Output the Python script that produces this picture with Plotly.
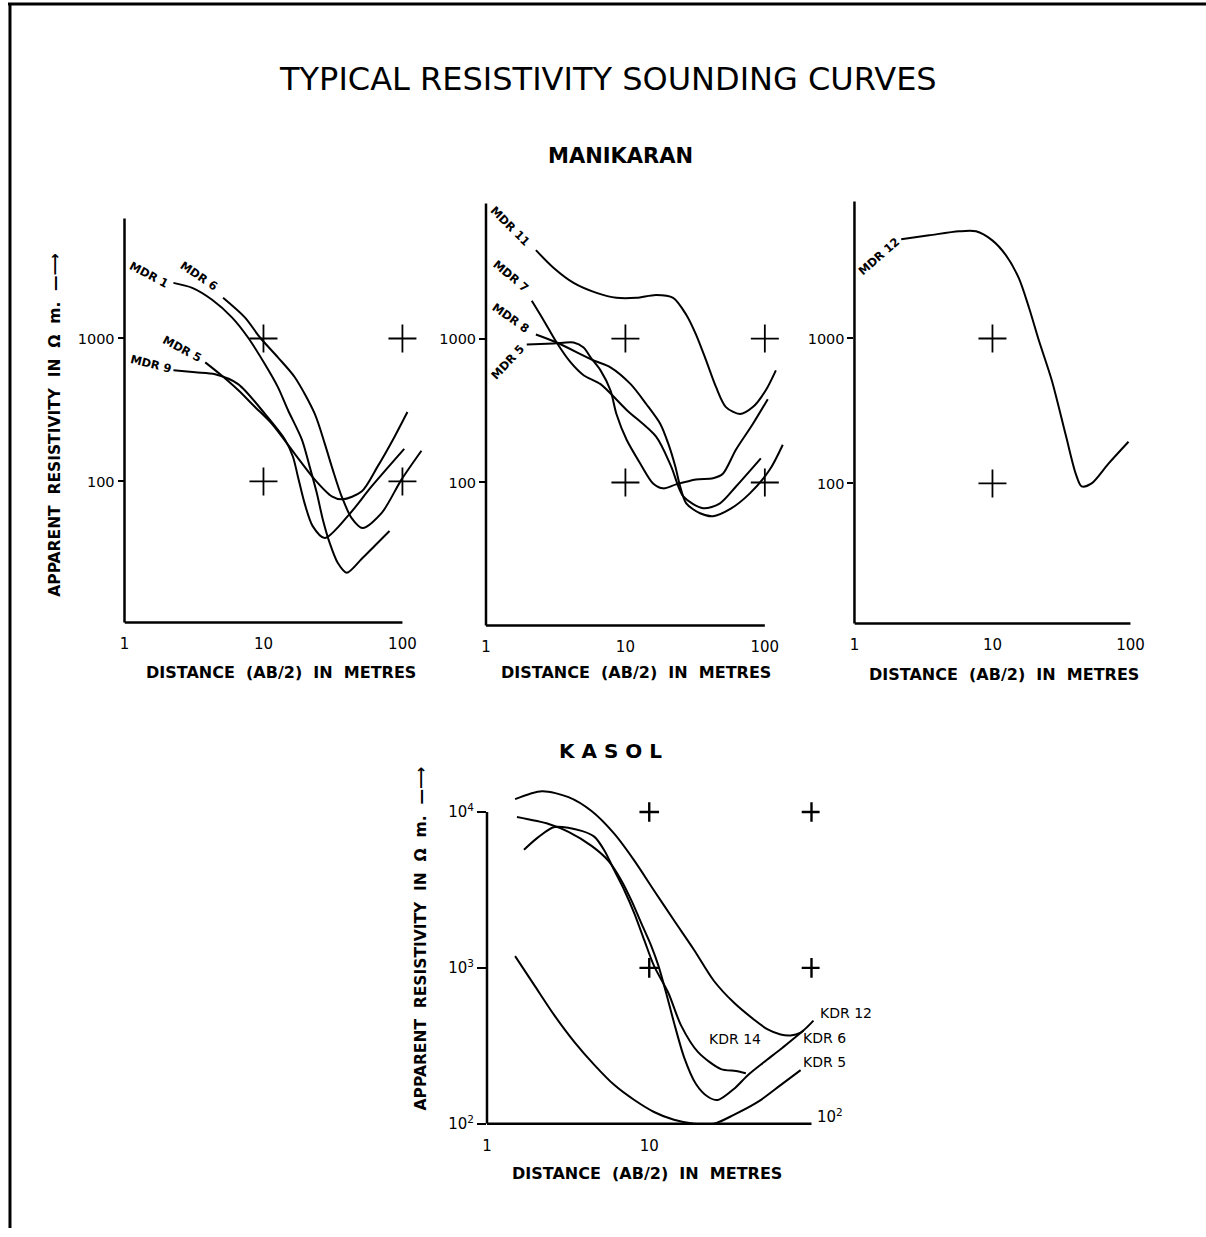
import plotly.graph_objects as go

# ------------------------------------------------------------------
# DATA  (x = AB/2 in metres, y = ohm-m)
# ------------------------------------------------------------------
# Manikaran - panel 1
mdr1_x = [2.25, 3.07, 4.27, 5.95, 7.74, 10.25, 12.7, 15.0, 18.9, 21.5, 24.2, 26.7, 30, 34.2, 39.7, 50.8, 63, 80.7]
mdr1_y = [2450, 2260, 1865, 1400, 1016, 660, 457, 316, 196, 127, 83, 54.5, 37, 27, 23, 28.7, 35.4, 45]
mdr6_x = [5.12, 7.37, 9.44, 12.7, 16.8, 23.4, 27.6, 31.5, 36.5, 43.1, 51.7, 70.7, 98.4, 137]
mdr6_y = [1928, 1400, 1016, 738, 536, 297, 184, 121, 78.7, 55.4, 47.2, 60, 103, 164]
mdr5_x = [3.81, 4.88, 6.57, 8.69, 11.5, 16.8, 23.4, 31, 37.1, 50.8, 66.2, 87.6, 108.6]
mdr5_y = [681, 562, 436, 332, 253, 156, 103, 78.7, 75, 85, 127, 205, 306]
mdr9_x = [2.25, 3.23, 4.49, 6.57, 10.25, 14.3, 16.3, 17.7, 19.8, 22.6, 27.6, 40.4, 60, 103]
mdr9_y = [600, 580, 562, 480, 297, 196, 149, 108, 70, 48.7, 40.2, 57.2, 92.3, 169]

# Manikaran - panel 2
mdr11_x = [2.28, 3.06, 4.25, 6.21, 8.62, 12.0, 16.6, 22.0, 27.3, 32.1, 37.9, 44.7, 52.6, 66.3, 82, 101.6, 120]
mdr11_y = [4110, 3090, 2434, 2075, 1918, 1918, 2010, 1918, 1465, 1066, 705, 459, 334, 299, 334, 437, 601]
mdr7_x = [2.13, 2.6, 3.21, 4.05, 5.01, 6.63, 10.2, 16.6, 21.3, 26, 36.1, 47.7, 62.1, 93.6]
mdr7_y = [1829, 1331, 938, 682, 556, 482, 319, 208, 129, 80, 66.2, 71.7, 93.7, 147]
mdr8_x = [2.28, 3.21, 5.91, 7.81, 10.9, 14.1, 17.8, 20.3, 22.8, 24.7, 27.3, 34.3, 42.5, 56.2, 78.1, 108.6, 134.5]
mdr8_y = [1066, 938, 705, 631, 482, 351, 255, 186, 129, 93.7, 71.7, 61.1, 58.3, 65.2, 84, 123, 183]
mdr5b_x = [1.96, 3.06, 4.25, 5.01, 5.62, 6.63, 7.81, 8.62, 10.2, 12.8, 15.8, 18.7, 23.1, 32.1, 42.5, 50, 62, 82, 105]
mdr5b_y = [909, 924, 938, 866, 740, 601, 437, 299, 198, 135, 98.4, 91, 97, 105, 107, 115, 169, 255, 379]

# Manikaran - panel 3
mdr12_x = [2.18, 3.48, 5.73, 7.6, 9.92, 12.5, 15.5, 18.4, 21.7, 26.9, 34, 40.1, 44.3, 52.3, 69.3, 96.8]
mdr12_y = [4840, 5150, 5490, 5490, 4770, 3760, 2617, 1630, 968, 515, 215, 117, 95.3, 100, 137, 194]

# Kasol
kdr12_x = [1.49, 2.18, 3.18, 4.41, 6.1, 8.09, 10.7, 14.2, 18.9, 25, 33.2, 44.1, 53.7, 64.5, 74.3, 85.7, 102.8]
kdr12_y = [12100, 13600, 12460, 10150, 7240, 4880, 3140, 2020, 1303, 827, 599, 467, 403, 374, 369, 385, 459]
kdr6_x = [1.53, 2.4, 3.18, 4.41, 5.6, 6.73, 7.76, 8.93, 10.3, 11.4, 12.7, 14.2, 16.4, 19.4, 23, 26.5, 33.2, 40.5, 50.8, 64.5, 89.3]
kdr6_y = [9290, 8390, 7470, 6070, 4870, 3640, 2710, 1937, 1382, 1030, 693, 447, 267, 180, 149, 142, 167, 205, 248, 301, 397]
kdr14_x = [1.69, 2.08, 2.61, 3.83, 4.6, 5.3, 6.1, 7.03, 8.09, 9.32, 10.7, 13.1, 15.7, 20, 27.7, 34.2, 39.4]
kdr14_y = [5730, 6930, 8020, 7570, 6930, 5650, 4210, 3140, 2240, 1507, 1030, 693, 428, 288, 224, 218, 211]
kdr5_x = [1.49, 1.97, 2.61, 3.47, 4.6, 6.1, 8.09, 10.7, 14.2, 18.9, 25, 33.2, 46.7, 64.5, 85.7]
kdr5_y = [1191, 767, 494, 333, 238, 177, 142, 119, 106, 100, 100, 114, 138, 177, 221]

# reference crosses
man_cross_x = [10, 100, 10, 100]
man_cross_y = [1000, 1000, 100, 100]
mdr12_cross_x = [10, 10]
mdr12_cross_y = [1000, 100]
kas_cross_x = [10, 100, 10, 100]
kas_cross_y = [10000, 10000, 1000, 1000]

# tick labels
man_xticks = [1, 10, 100]
man_xtext = ["1", "10", "100"]
man_yticks = [100, 1000]
man_ytext = ["100", "1000"]
kas_xticks = [1, 10]
kas_xtext = ["1", "10"]
kas_yticks = [100, 1000, 10000]
kas_ytext = ["10<sup>2</sup>", "10<sup>3</sup>", "10<sup>4</sup>"]

# ------------------------------------------------------------------
W, H = 1206, 1237
FONT = "DejaVu Sans"


def px(v):
    return v / W


def py(v):
    return 1 - v / H


fig = go.Figure()

curve_style = dict(mode="lines", line=dict(color="black", width=2, shape="spline", smoothing=0.8),
                   hoverinfo="skip", showlegend=False)

panels = {
    1: [(mdr1_x, mdr1_y), (mdr6_x, mdr6_y), (mdr5_x, mdr5_y), (mdr9_x, mdr9_y)],
    2: [(mdr11_x, mdr11_y), (mdr7_x, mdr7_y), (mdr8_x, mdr8_y), (mdr5b_x, mdr5b_y)],
    3: [(mdr12_x, mdr12_y)],
    4: [(kdr12_x, kdr12_y), (kdr6_x, kdr6_y), (kdr14_x, kdr14_y), (kdr5_x, kdr5_y)],
}
for k, curves in panels.items():
    ax = "" if k == 1 else str(k)
    for cx, cy in curves:
        fig.add_trace(go.Scatter(x=cx, y=cy, xaxis="x" + ax, yaxis="y" + ax, **curve_style))

crosses = {1: (man_cross_x, man_cross_y, 20), 2: (man_cross_x, man_cross_y, 20),
           3: (mdr12_cross_x, mdr12_cross_y, 20), 4: (kas_cross_x, kas_cross_y, 14)}
for k, (cx, cy, sz) in crosses.items():
    ax = "" if k == 1 else str(k)
    fig.add_trace(go.Scatter(x=cx, y=cy, xaxis="x" + ax, yaxis="y" + ax, mode="markers",
                             marker=dict(symbol="cross-thin", size=sz,
                                         line=dict(color="black", width=2.4 if k == 4 else 1.8)),
                             hoverinfo="skip", showlegend=False))

common_x = dict(type="log", showgrid=False, zeroline=False, showline=False,
                ticks="outside", ticklen=8, tickcolor="rgba(0,0,0,0)",
                tickfont=dict(family=FONT, size=15, color="black"))
common_y = dict(type="log", showgrid=False, zeroline=False, showline=False,
                ticks="outside", ticklen=6, tickwidth=2, tickcolor="black",
                tickfont=dict(family=FONT, size=14.5, color="black"))

layout = dict(
    width=W, height=H, margin=dict(l=0, r=0, t=0, b=0),
    paper_bgcolor="white", plot_bgcolor="white", showlegend=False,
    xaxis=dict(common_x, domain=[px(120), px(427)], range=[0, 2.2], anchor="y",
               tickvals=man_xticks, ticktext=man_xtext),
    yaxis=dict(common_y, domain=[py(627), py(220)], range=[1.014, 3.84], anchor="x",
               tickvals=man_yticks, ticktext=man_ytext),
    xaxis2=dict(common_x, domain=[px(483), px(791)], range=[0, 2.2], anchor="y2",
                tickvals=man_xticks, ticktext=man_xtext),
    yaxis2=dict(common_y, domain=[py(630), py(205)], range=[1.007, 3.938], anchor="x2",
                tickvals=man_yticks, ticktext=man_ytext),
    xaxis3=dict(common_x, domain=[px(853), px(1144)], range=[0, 2.1], anchor="y3",
                tickvals=man_xticks, ticktext=man_xtext),
    yaxis3=dict(common_y, domain=[py(628), py(203)], range=[1.034, 3.945], anchor="x3",
                tickvals=man_yticks, ticktext=man_ytext),
    xaxis4=dict(common_x, domain=[px(484), px(818)], range=[0, 2.05], anchor="y4",
                tickvals=kas_xticks, ticktext=kas_xtext),
    yaxis4=dict(common_y, domain=[py(1132), py(780)], range=[2.0, 4.242], anchor="x4",
                tickvals=kas_yticks, ticktext=kas_ytext, ticklen=9,
                tickfont=dict(family=FONT, size=15, color="black")),
)
fig.update_layout(**layout)

# axis lines (x-axis drawn from 1 to 100, y-axis along the domain)
shapes = []
for k in range(1, 5):
    ax = "" if k == 1 else str(k)
    shapes.append(dict(type="line", xref="x" + ax, yref="y" + ax + " domain", x0=1, x1=100, y0=0, y1=0,
                       line=dict(color="black", width=2.5)))
    if k < 4:
        shapes.append(dict(type="line", xref="x" + ax + " domain", yref="y" + ax + " domain",
                           x0=0, x1=0, y0=0, y1=1, line=dict(color="black", width=2.5)))
    else:
        shapes.append(dict(type="line", xref="x4 domain", yref="y4", x0=0, x1=0, y0=100, y1=10000,
                           line=dict(color="black", width=2.5)))
# frame of the sheet
shapes.append(dict(type="line", xref="paper", yref="paper", x0=px(3), x1=1, y0=py(4), y1=py(4),
                   line=dict(color="black", width=3)))
shapes.append(dict(type="line", xref="paper", yref="paper", x0=px(5), x1=px(5), y0=py(3), y1=0,
                   line=dict(color="black", width=3)))
fig.update_layout(shapes=shapes)

ann = []


def text(x, y, s, size, bold=False, angle=0, xa="center"):
    ann.append(dict(x=px(x), y=py(y), xref="paper", yref="paper", text=s, showarrow=False,
                    xanchor=xa, yanchor="middle", textangle=angle,
                    font=dict(family=FONT, size=size, color="black",
                              weight="bold" if bold else "normal")))


text(606, 80, "TYPICAL RESISTIVITY SOUNDING CURVES", 32)
text(618, 157, "MANIKARAN", 21, bold=True)
text(608, 757, "K A S O L", 20, bold=True)
for cx, cy in [(277, 677), (634, 677), (1003, 679), (645, 1182)]:
    text(cx, cy, "DISTANCE  (AB/2)  IN  METRES", 16, bold=True)
text(50, 428, "APPARENT  RESISTIVITY  IN  Ω  m.  —⟶", 15.5, bold=True, angle=-90)
text(418, 945, "APPARENT  RESISTIVITY  IN  Ω  m.  —⟶", 15.5, bold=True, angle=-90)

# curve labels
for (x, y, s, a) in [(145, 277, "MDR 1", 28), (195, 278, "MDR 6", 34), (178, 352, "MDR 5", 28),
                     (147, 367, "MDR 9", 14), (507, 228, "MDR 11", 45), (508, 278, "MDR 7", 40),
                     (508, 320, "MDR 8", 35), (505, 365, "MDR 5", -47), (878, 258, "MDR 12", -41)]:
    text(x, y, s, 11.5, bold=True, angle=a)
for (x, y, s) in [(844, 1020, "KDR 12"), (823, 1046, "KDR 6"), (823, 1070, "KDR 5"), (733, 1047, "KDR 14")]:
    text(x, y, s, 14)

# x tick 10^2 for Kasol, placed at the end of the axis
ann.append(dict(x=2.0, y=2.0, xref="x4", yref="y4", text="10<sup>2</sup>", showarrow=False,
                xanchor="left", yanchor="middle", xshift=4, yshift=8,
                font=dict(family=FONT, size=15, color="black")))
fig.update_layout(annotations=ann)

fig.write_html("out.html", config={"displayModeBar": False},
               post_script="document.body.style.margin='0px';")
